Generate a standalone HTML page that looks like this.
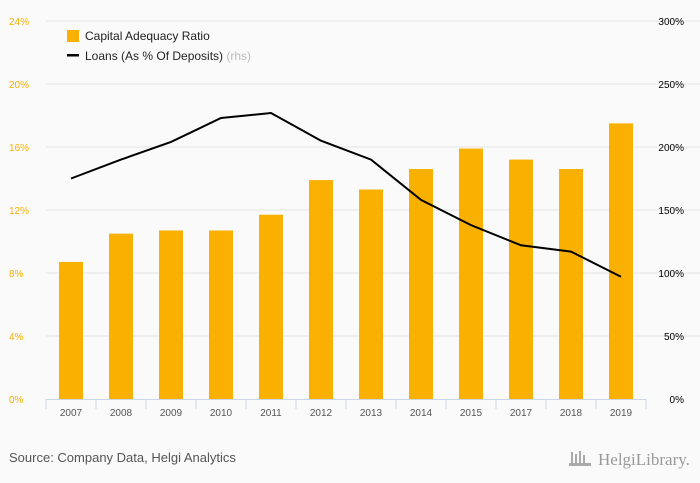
<!DOCTYPE html>
<html><head><meta charset="utf-8"><style>
body{margin:0;background:#fafafa;font-family:"Liberation Sans",sans-serif}
svg{display:block}
</style></head><body>
<svg id="c" width="700" height="483" xmlns="http://www.w3.org/2000/svg">
<rect width="700" height="483" fill="#fafafa"/>
<g id="grid"></g><g id="bars"></g><g id="line"></g><g id="axes"></g>
<g>
<rect x="67" y="30" width="12" height="12" fill="#f9b000"/>
<text x="85" y="40" font-size="12" fill="#222">Capital Adequacy Ratio</text>
<rect x="67" y="54" width="12" height="2.5" fill="#000"/>
<text x="85" y="60" font-size="12" fill="#222">Loans (As % Of Deposits) <tspan fill="#bbb">(rhs)</tspan></text>
</g>
<text x="9" y="462" font-size="13" fill="#555">Source: Company Data, Helgi Analytics</text>
<text x="598" y="465" font-size="17" fill="#999" font-family="Liberation Serif,serif">HelgiLibrary.</text>
<g fill="#aaa"><rect x="571" y="452" width="2" height="12"/><rect x="575" y="454" width="2" height="10"/><rect x="579" y="451" width="2" height="13"/><rect x="583" y="455" width="2" height="9"/><rect x="569" y="463" width="22" height="3"/></g>
</svg>
<script>
const categories=["2007","2008","2009","2010","2011","2012","2013","2014","2015","2017","2018","2019"];
const carValues=[8.7,10.5,10.7,10.7,11.7,13.9,13.3,14.6,15.9,15.2,14.6,17.5];
const loanValues=[175,190,204,223,227,205,190,158,138,122,117,97];
const leftTicks=[0,4,8,12,16,20,24];
const rightTicks=[0,50,100,150,200,250,300];
const NS="http://www.w3.org/2000/svg";
const x0=46,x1=646,y0=399,y1=21,band=(x1-x0)/categories.length;
const xc=i=>x0+band*(i+0.5);
const yL=v=>y0-(v/24)*(y0-y1);
const yR=v=>y0-(v/300)*(y0-y1);
function mk(t,a,p){const e=document.createElementNS(NS,t);for(const k in a)e.setAttribute(k,a[k]);p.appendChild(e);return e;}
const grid=document.getElementById('grid'),bars=document.getElementById('bars'),line=document.getElementById('line'),axes=document.getElementById('axes');
leftTicks.forEach((v,i)=>{
 if(v>0){const g=mk('line',{x1:x0,x2:700,y1:yL(v),y2:yL(v),stroke:'#e4e4e4'},grid);
 
 }
 const t=mk('text',{x:9,y:yL(v)+4,'font-size':10,fill:'#f9b000'},axes);t.textContent=v+'%';
 
 
});
rightTicks.forEach(v=>{
 const t=mk('text',{x:684,y:yR(v)+4,'font-size':10,fill:'#000','text-anchor':'end'},axes);t.textContent=v+'%';
 
 
});
const ax=mk('line',{x1:x0,x2:x1,y1:y0+0.5,y2:y0+0.5,stroke:'#ccd6eb'},axes);


for(let i=0;i<=categories.length;i++){const tk=mk('line',{x1:x0+band*i,x2:x0+band*i,y1:y0,y2:y0+10,stroke:'#ccd6eb'},axes);
 
 }
categories.forEach((c,i)=>{
 const t=mk('text',{x:xc(i),y:y0+17,'font-size':10,fill:'#555','text-anchor':'middle'},axes);t.textContent=c;
 
 
 const b=mk('rect',{x:xc(i)-12,y:yL(carValues[i]),width:24,height:y0-yL(carValues[i]),fill:'#f9b000'},bars);
 
 
});
const p=mk('polyline',{points:loanValues.map((v,i)=>xc(i)+','+yR(v)).join(' '),fill:'none',stroke:'#000','stroke-width':2},line);


</script>
</body></html>
